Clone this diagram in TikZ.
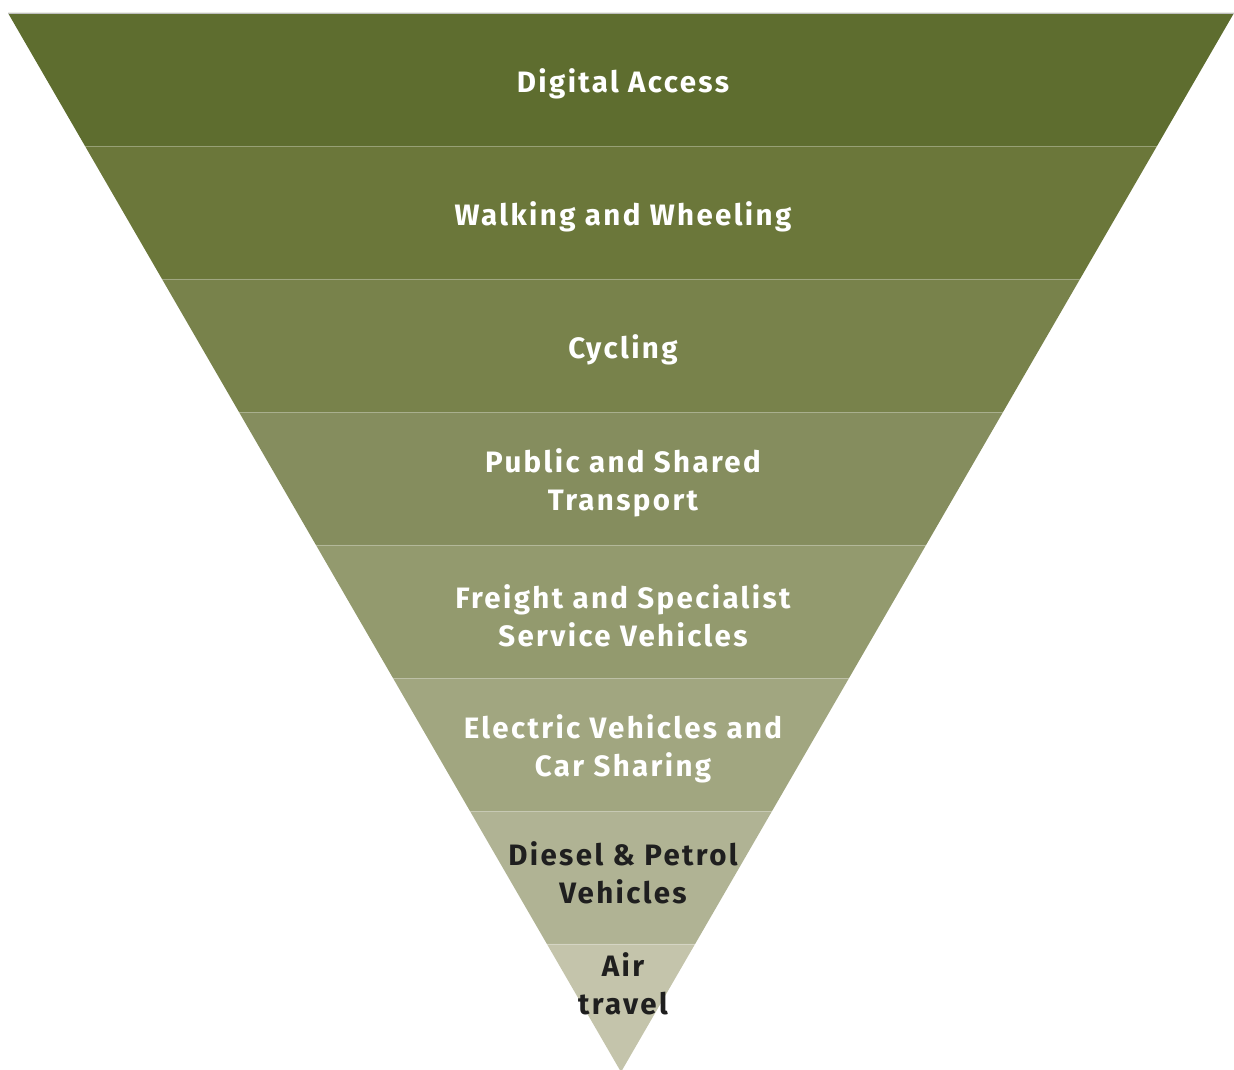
\documentclass[tikz,border=0pt]{standalone}
\usepackage{fontspec}
\setmainfont{Fira Sans}[BoldFont={Fira Sans Bold}, LetterSpace=8]
\usetikzlibrary{calc}
\begin{document}
\begin{tikzpicture}[x=1pt,y=-1pt,
  lvl/.style={font=\fontsize{29.5}{38}\selectfont\bfseries, align=center, text=white, inner sep=0pt},
  lvldark/.style={lvl, text=black!88},
  sep/.style={draw=white, draw opacity=0.3, line width=0.8pt}]
\useasboundingbox (0,0) rectangle (1234,1070);
\definecolor{b1}{HTML}{5E6D2F}
\definecolor{b2}{HTML}{6B773A}
\definecolor{b3}{HTML}{78824B}
\definecolor{b4}{HTML}{858D5E}
\definecolor{b5}{HTML}{939A6E}
\definecolor{b6}{HTML}{A1A680}
\definecolor{b7}{HTML}{B0B394}
\definecolor{b8}{HTML}{C4C4AB}
% inverted triangle: top corners and apex
\coordinate (TL) at (8,13);
\coordinate (TR) at (1234,13);
\coordinate (AP) at (621,1072);
% band boundaries along both slanted edges
\foreach \i/\y in {0/13,1/146,2/279,3/412,4/545,5/678,6/811,7/944}{
  \coordinate (L\i) at ($(TL)!{(\y-13)/1059}!(AP)$);
  \coordinate (R\i) at ($(TR)!{(\y-13)/1059}!(AP)$);
}
% bands
\foreach \i/\j/\c in {0/1/b1,1/2/b2,2/3/b3,3/4/b4,4/5/b5,5/6/b6,6/7/b7}{
  \fill[\c] (L\i) -- (R\i) -- (R\j) -- (L\j) -- cycle;
}
\fill[b8] (L7) -- (R7) -- (AP) -- cycle;
% thin separators between bands
\foreach \i in {1,...,7}{ \draw[sep] (L\i) -- (R\i); }
\draw[draw=black!25, line width=0.8pt] (L0) -- (R0);
% labels
\node[lvl] (n1) at (623,84) {Digital Access};
\node[lvl] (n2) at (623,217) {Walking and Wheeling};
\node[lvl] (n3) at (623,350) {Cycling};
\node[lvl] (n4) at (623,483) {Public and Shared\\Transport};
\node[lvl] (n5) at (623,616) {Freight and Specialist\\Service Vehicles};
\node[lvl] (n6) at (623,749) {Electric Vehicles and\\Car Sharing};
\node[lvldark] (n7) at (623,873) {Diesel \& Petrol\\Vehicles};
\node[lvldark] (n8) at (623,984) {Air\\travel};
\end{tikzpicture}
\end{document}
